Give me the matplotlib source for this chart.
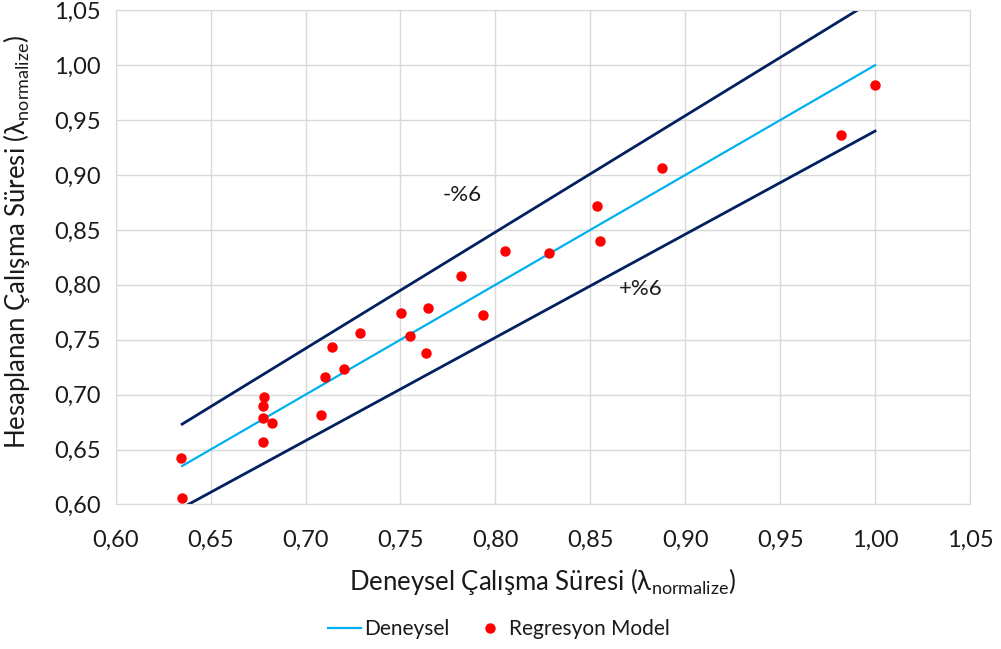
import matplotlib
matplotlib.use('Agg')
import matplotlib.pyplot as plt
import numpy as np

plt.rcParams['font.family'] = ['Lato', 'DejaVu Sans']
plt.rcParams['mathtext.fontset'] = 'custom'
plt.rcParams['mathtext.rm'] = 'Lato'

# Deneysel (x) ve regresyon modeli (y) degerleri
deneysel = [0.6345, 0.6348, 0.6779, 0.6774, 0.6774, 0.6825, 0.6774, 0.7080,
            0.7103, 0.7141, 0.7201, 0.7286, 0.7502, 0.7551, 0.7643, 0.7632,
            0.7933, 0.7817, 0.8053, 0.8285, 0.8535, 0.8549, 0.8879, 0.9822,
            1.0000]
model = [0.642, 0.6056, 0.698, 0.690, 0.679, 0.674, 0.657, 0.6817,
         0.716, 0.743, 0.723, 0.756, 0.774, 0.7534, 0.7786, 0.738,
         0.7725, 0.808, 0.831, 0.8287, 0.8717, 0.840, 0.9067, 0.9368,
         0.9816]
hat_x = [0.635, 1.00]
tolerans = 0.06

xticks = np.arange(0.60, 1.0501, 0.05)
yticks = np.arange(0.60, 1.0501, 0.05)

fig = plt.figure(figsize=(10.01, 6.49), dpi=100)
ax = fig.add_axes([0.1156, 0.2228, 0.8534, 0.7613])

hx = np.array(hat_x)
ax.plot(hx, hx * (1 + tolerans), color='#002060', lw=2.0, zorder=2)
ax.plot(hx, hx * (1 - tolerans), color='#002060', lw=2.0, zorder=2)
ax.plot(hx, hx, color='#00b0f0', lw=1.6, label='Deneysel', zorder=3)
ax.plot(deneysel, model, 'o', color='#ff0000', ms=6.5, label='Regresyon Model', zorder=4)

ax.text(0.7827, 0.8815, '-%6', fontsize=16, ha='center', va='center', color='#1a1a1a')
ax.text(0.8765, 0.7965, '+%6', fontsize=16, ha='center', va='center', color='#1a1a1a')

ax.set_xlim(0.60, 1.05)
ax.set_ylim(0.60, 1.05)
ax.set_xticks(xticks)
ax.set_yticks(yticks)
ax.set_xticklabels([f'{t:.2f}'.replace('.', ',') for t in xticks], fontsize=17, color='#1a1a1a')
ax.set_yticklabels([f'{t:.2f}'.replace('.', ',') for t in yticks], fontsize=17, color='#1a1a1a')
ax.tick_params(axis='x', length=0, pad=18)
ax.tick_params(axis='y', length=0, pad=11)
ax.grid(True, color='#d9d9d9', lw=1.0)
ax.set_axisbelow(True)
for s in ax.spines.values():
    s.set_color('#d9d9d9')

ax.set_xlabel('Deneysel Çalışma Süresi (λ$_{\\mathrm{normalize}}$)', fontsize=18.5, color='#1a1a1a')
ax.set_ylabel('Hesaplanan Çalışma Süresi (λ$_{\\mathrm{normalize}}$)', fontsize=18.5, color='#1a1a1a')
ax.xaxis.set_label_coords(0.5, -0.125)
ax.yaxis.set_label_coords(-0.098, 0.531)

ax.legend(loc='center', bbox_to_anchor=(0.449, -0.252), ncol=2, frameon=False,
          fontsize=15, handlelength=1.55, handletextpad=0.15, columnspacing=1.2,
          labelcolor='#1a1a1a')

fig.savefig('out.png', dpi=100)
